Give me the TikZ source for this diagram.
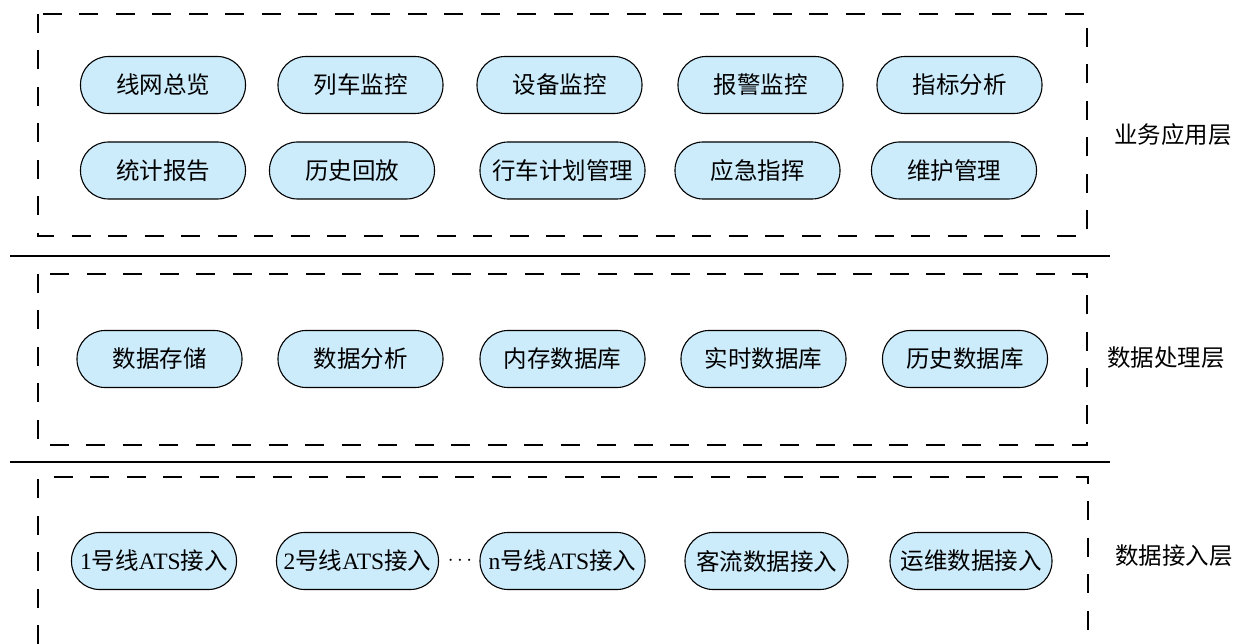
\documentclass[tikz,border=0pt]{standalone}
\usepackage{fontspec}
\setmainfont{Liberation Serif}
\newfontfamily\cjk{Noto Sans CJK SC}
\definecolor{pillfill}{RGB}{204,235,251}
\begin{document}
\begin{tikzpicture}[x=1pt,y=-1pt,
  pill/.style={draw=black, line width=1.1pt, fill=pillfill, rounded corners=28pt,
    minimum width=165pt, minimum height=57pt, inner sep=0pt,
    font=\fontsize{23.5}{26}\selectfont\cjk},
  layerbox/.style={draw=black, line width=1.1pt, dash pattern=on 19pt off 17.5pt},
  sepline/.style={draw=black, line width=1.1pt},
  layerlabel/.style={font=\fontsize{23.5}{26}\selectfont\cjk, inner sep=0pt}]
\useasboundingbox[fill=white] (0,0) rectangle (1235,644);

% layer frames
\draw[layerbox] (38,14) rectangle (1087,236);
\draw[layerbox] (38,274) rectangle (1087,445);
\draw[layerbox] (38,644) -- (38,477) -- (1088,477) -- (1088,644);
\draw[sepline] (10,256) -- (1110,256);
\draw[sepline] (10,462) -- (1110,462);

% business application layer
\node[pill] (a1) at (163,85) {线网总览};
\node[pill] (a2) at (360.5,85) {列车监控};
\node[pill] (a3) at (559.5,85) {设备监控};
\node[pill] (a4) at (760.5,85) {报警监控};
\node[pill] (a5) at (959.5,85) {指标分析};
\node[pill] (b1) at (163,170.5) {统计报告};
\node[pill] (b2) at (352,170.5) {历史回放};
\node[pill] (b3) at (562.5,170.5) {行车计划管理};
\node[pill] (b4) at (757.5,170.5) {应急指挥};
\node[pill] (b5) at (954,170.5) {维护管理};
\node[layerlabel] (l1) at (1173,135) {业务应用层};

% data processing layer
\node[pill] (c1) at (159.5,359) {数据存储};
\node[pill] (c2) at (360.5,359) {数据分析};
\node[pill] (c3) at (562.5,359) {内存数据库};
\node[pill] (c4) at (763.5,359) {实时数据库};
\node[pill] (c5) at (965,359) {历史数据库};
\node[layerlabel] (l2) at (1166,358) {数据处理层};

% data access layer
\node[pill] (d1) at (154,561) {\rmfamily 1\cjk 号线\rmfamily ATS\cjk 接入};
\node[pill, minimum width=162pt] (d2) at (357.5,561) {\rmfamily 2\cjk 号线\rmfamily ATS\cjk 接入};
\node[inner sep=0pt, font=\fontsize{20}{24}\selectfont] (dots) at (460,561) {$\cdots$};
\node[pill] (d3) at (562.5,561) {\rmfamily n\cjk 号线\rmfamily ATS\cjk 接入};
\node[pill, minimum width=163pt] (d4) at (766.5,561) {客流数据接入};
\node[pill, minimum width=162pt] (d5) at (971,561) {运维数据接入};
\node[layerlabel] (l3) at (1174,556) {数据接入层};
\end{tikzpicture}
\end{document}
